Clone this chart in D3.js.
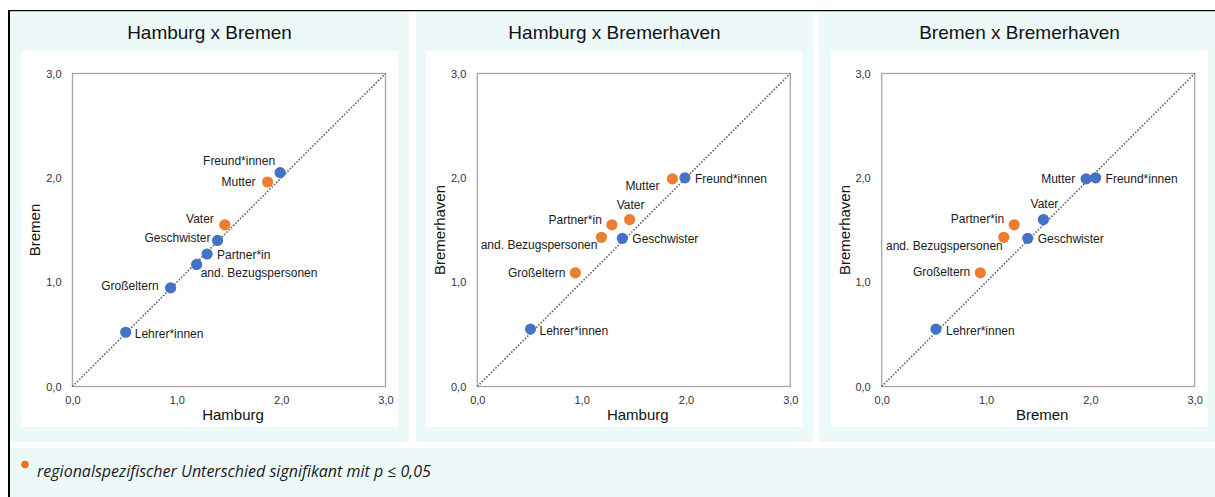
<!DOCTYPE html>
<html><head><meta charset="utf-8">
<script src="https://cdn.jsdelivr.net/npm/d3@7"></script>
<style>body{margin:0;background:#fff;overflow:hidden}</style>
</head><body><svg id="c" width="1215" height="497"></svg>
<script>
// ---------- data ----------
const categories = ["Lehrer*innen","Großeltern","and. Bezugspersonen","Partner*in","Geschwister","Vater","Mutter","Freund*innen"];
const hamburg     = [0.51, 0.94, 1.19, 1.29, 1.39, 1.46, 1.87, 1.99];
const bremen      = [0.52, 0.945, 1.17, 1.27, 1.40, 1.55, 1.96, 2.05];
const bremerhaven = [0.55, 1.09, 1.43, 1.55, 1.42, 1.60, 1.99, 2.00];
// significant regional difference (1 = significant, p <= 0.05)
const sigHamburgBremen      = [0,0,0,0,0,1,1,0];
const sigHamburgBremerhaven = [0,1,1,1,0,1,1,0];
const sigBremenBremerhaven  = [0,1,1,1,0,0,0,0];
const panelTitles = ["Hamburg x Bremen","Hamburg x Bremerhaven","Bremen x Bremerhaven"];
const xTitles = ["Hamburg","Hamburg","Bremen"];
const yTitles = ["Bremen","Bremerhaven","Bremerhaven"];
const tickValues = [0,1,2,3];
const tickLabels = ["0,0","1,0","2,0","3,0"];
const legendText = "regionalspezifischer Unterschied signifikant mit p \u2264 0,05";

// ---------- label placement (layout only) ----------
const labelPos = [
  [["start",9,6],["end",-12,2],["start",4,13],["start",10,5],["end",-7,2],["end",-11,-2],["end",-12,4],["end",-5,-8]],
  [["start",9,6],["end",-10,4],["end",-4,12],["end",-10,-1],["start",10,5],["middle",1,-11],["end",-13,11],["start",10,5]],
  [["start",10,6],["end",-10,3],["end",-1,13],["end",-10,-2],["start",10,5],["middle",1,-12],["end",-11,4],["start",10,5]]
];

const panels = [
  {xs: hamburg, ys: bremen, sig: sigHamburgBremen},
  {xs: hamburg, ys: bremerhaven, sig: sigHamburgBremerhaven},
  {xs: bremen, ys: bremerhaven, sig: sigBremenBremerhaven}
];

const BLUE = "#4472C4", ORANGE = "#ED7D31", BG = "#EDF9F9";
const FONT = "'Liberation Sans', Arial, sans-serif";

const svg = d3.select("#c");
svg.append("rect").attr("x",0).attr("y",0).attr("width",1215).attr("height",497).attr("fill","#fff");

// panel backgrounds
const bgX = [10, 416, 819], bgW = [399, 397, 396];
bgX.forEach((x,i)=> svg.append("rect").attr("x",x).attr("y",11).attr("width",bgW[i]).attr("height",431).attr("fill",BG));
svg.append("rect").attr("x",10).attr("y",448).attr("width",1205).attr("height",49).attr("fill",BG);
// outer frame lines
svg.append("rect").attr("x",8).attr("y",10).attr("width",2).attr("height",487).attr("fill","#000");
svg.append("rect").attr("x",8).attr("y",10).attr("width",1207).attr("height",1.2).attr("fill","#000");

const whiteX = [21, 426, 831];
const plotOff = [51.5, 51.3, 50.7];
const plotSize = 313;

panels.forEach((p, pi) => {
  const wx = whiteX[pi];
  const g = svg.append("g");
  g.append("rect").attr("x",wx).attr("y",51).attr("width",377).attr("height",376).attr("fill","#fff");
  const px0 = wx + plotOff[pi], py0 = 73.5;
  const x = d3.scaleLinear().domain([0,3]).range([px0, px0 + plotSize]);
  const y = d3.scaleLinear().domain([0,3]).range([py0 + plotSize, py0]);

  // title
  g.append("text").attr("x", wx + 188.5).attr("y", 39).attr("text-anchor","middle")
    .attr("font-family",FONT).attr("font-size",19).attr("fill","#111").text(panelTitles[pi]);

  // plot border
  g.append("rect").attr("x",x(0)).attr("y",y(3)).attr("width",x(3)-x(0)).attr("height",y(0)-y(3))
    .attr("fill","none").attr("stroke","#a6a6a6").attr("stroke-width",1.3);

  // axes (labels only)
  const xa = g.append("g").attr("transform",`translate(0,${y(0)})`)
    .call(d3.axisBottom(x).tickValues(tickValues).tickFormat((d,i)=>tickLabels[i]).tickSize(0).tickPadding(10));
  const ya = g.append("g").attr("transform",`translate(${x(0)},0)`)
    .call(d3.axisLeft(y).tickValues(tickValues).tickFormat((d,i)=>tickLabels[i]).tickSize(0).tickPadding(11));
  [xa, ya].forEach(a => {
    a.select(".domain").remove();
    a.selectAll("text").attr("font-family",FONT).attr("font-size",11).attr("fill","#333");
  });

  // axis titles
  g.append("text").attr("x",(x(0)+x(3))/2 + 4).attr("y",420).attr("text-anchor","middle")
    .attr("font-family",FONT).attr("font-size",15).attr("fill","#111").text(xTitles[pi]);
  g.append("text").attr("transform",`translate(${wx+19},${(y(0)+y(3))/2}) rotate(-90)`).attr("text-anchor","middle")
    .attr("font-family",FONT).attr("font-size",15).attr("fill","#111").text(yTitles[pi]);

  // diagonal
  g.append("line").attr("x1",x(0)).attr("y1",y(0)).attr("x2",x(3)).attr("y2",y(3))
    .attr("stroke","#6b6b6b").attr("stroke-width",1.7).attr("stroke-dasharray","1.6,1.6");

  const data = categories.map((c,i)=>({c, xv:p.xs[i], yv:p.ys[i], s:p.sig[i], lp:labelPos[pi][i]}));

  g.selectAll("circle.pt").data(data).join("circle").attr("class","pt")
    .attr("cx",d=>x(d.xv)).attr("cy",d=>y(d.yv)).attr("r",5.6)
    .attr("fill",d=>d.s ? ORANGE : BLUE);

  g.selectAll("text.lbl").data(data).join("text").attr("class","lbl")
    .attr("x",d=>x(d.xv)+d.lp[1]).attr("y",d=>y(d.yv)+d.lp[2]).attr("text-anchor",d=>d.lp[0])
    .attr("font-family",FONT).attr("font-size",12).attr("fill","#1a1a1a").text(d=>d.c);
});

// legend
svg.append("circle").attr("cx",25).attr("cy",464.5).attr("r",3.8).attr("fill","#E8731F");
svg.append("text").attr("x",37).attr("y",476.5).attr("font-family","'Open Sans', 'Noto Sans', sans-serif")
  .attr("font-style","italic").attr("font-size",16).attr("fill","#1a1a1a").text(legendText);
</script></body></html>
